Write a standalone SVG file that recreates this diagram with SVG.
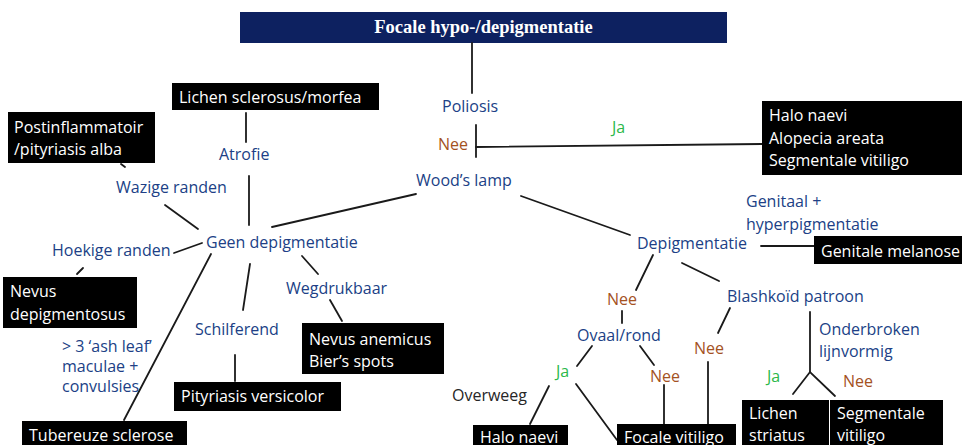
<svg xmlns="http://www.w3.org/2000/svg" width="962" height="445" viewBox="0 0 962 445">
<style>
.t{font-family:"Open Sans","Liberation Sans",sans-serif;font-size:16px}
.b{fill:#203f86}
.n{fill:#a4521f}
.j{fill:#2bb84a}
.w{fill:#ffffff}
.k{fill:#262626}
.box{fill:#000000}
.ln{stroke:#1a1a1a;stroke-width:1.8;fill:none;stroke-linecap:round}
</style>
<rect width="962" height="445" fill="#ffffff"/>
<g id="title">
<rect x="240" y="12" width="487" height="31" fill="#0d2160"/>
<text x="483.5" y="33" text-anchor="middle" font-family="Liberation Serif,serif" font-weight="bold" font-size="18.5" fill="#ffffff">Focale hypo-/depigmentatie</text>
</g>
<g id="connectors" class="ln">
<line x1="472" y1="43" x2="472" y2="93"/>
<line x1="476" y1="125" x2="476" y2="157"/>
<line x1="476" y1="147" x2="762" y2="144"/>
<line x1="521" y1="196" x2="630" y2="235"/>
<line x1="416" y1="194" x2="272" y2="227"/>
<line x1="246" y1="113" x2="246" y2="142"/>
<line x1="249" y1="176" x2="249" y2="225"/>
<line x1="121" y1="164" x2="125" y2="167"/>
<line x1="165" y1="205" x2="198" y2="229"/>
<line x1="174" y1="253" x2="202" y2="243"/>
<line x1="83" y1="268" x2="77" y2="274"/>
<line x1="211" y1="254" x2="124" y2="420"/>
<line x1="250" y1="264" x2="243" y2="310"/>
<line x1="235" y1="355" x2="235" y2="381"/>
<line x1="302" y1="256" x2="318" y2="274"/>
<line x1="330" y1="300" x2="342" y2="321"/>
<line x1="761" y1="246" x2="814" y2="246"/>
<line x1="653" y1="255" x2="636" y2="290"/>
<line x1="622" y1="311" x2="622" y2="323"/>
<line x1="592" y1="346" x2="577" y2="366"/>
<line x1="640" y1="346" x2="654" y2="365"/>
<line x1="664" y1="385" x2="664" y2="424"/>
<line x1="549" y1="386" x2="530" y2="424"/>
<line x1="576" y1="384" x2="617" y2="440"/>
<line x1="682" y1="263" x2="719" y2="281"/>
<line x1="730" y1="308" x2="718" y2="333"/>
<line x1="708" y1="362" x2="708" y2="424"/>
<line x1="810" y1="312" x2="810" y2="372"/>
<polyline points="793,394 810,372 835,396"/>
</g>
<g id="poliosis"><text class="t b" x="442" y="112">Poliosis</text></g>
<g id="nee-poliosis"><text class="t n" x="438" y="150">Nee</text></g>
<g id="ja-poliosis"><text class="t j" x="612" y="133">Ja</text></g>
<g id="halo-box">
<rect class="box" x="762" y="101" width="200" height="74"/>
<text class="t w" x="769" y="121">Halo naevi</text>
<text class="t w" x="769" y="144">Alopecia areata</text>
<text class="t w" x="769" y="166">Segmentale vitiligo</text>
</g>
<g id="woods"><text class="t b" x="416" y="186">Wood’s lamp</text></g>
<g id="lichen-sclerosus">
<rect class="box" x="172" y="83" width="207" height="27"/>
<text class="t w" x="179" y="103">Lichen sclerosus/morfea</text>
</g>
<g id="atrofie"><text class="t b" x="219" y="160">Atrofie</text></g>
<g id="postinflammatoir">
<rect class="box" x="8" y="112" width="147" height="51"/>
<text class="t w" x="14" y="133">Postinflammatoir</text>
<text class="t w" x="14" y="155">/pityriasis alba</text>
</g>
<g id="wazige"><text class="t b" x="116" y="193">Wazige randen</text></g>
<g id="geen"><text class="t b" x="206" y="248">Geen depigmentatie</text></g>
<g id="hoekige"><text class="t b" x="52" y="256">Hoekige randen</text></g>
<g id="nevus-depig">
<rect class="box" x="3" y="277" width="134" height="51"/>
<text class="t w" x="10" y="297">Nevus</text>
<text class="t w" x="10" y="320">depigmentosus</text>
</g>
<g id="ashleaf">
<text class="t b" x="62" y="352" font-size="14">&gt; 3 ‘ash leaf’</text>
<text class="t b" x="62" y="372" font-size="14">maculae +</text>
<text class="t b" x="62" y="392" font-size="14">convulsies</text>
</g>
<g id="tubereuze">
<rect class="box" x="22" y="421" width="165" height="30"/>
<text class="t w" x="29" y="441">Tubereuze sclerose</text>
</g>
<g id="schilferend"><text class="t b" x="195" y="335">Schilferend</text></g>
<g id="pityriasis">
<rect class="box" x="174" y="382" width="167" height="29"/>
<text class="t w" x="181" y="402">Pityriasis versicolor</text>
</g>
<g id="wegdrukbaar"><text class="t b" x="286" y="294">Wegdrukbaar</text></g>
<g id="nevus-anemicus">
<rect class="box" x="302" y="323" width="142" height="51"/>
<text class="t w" x="309" y="345">Nevus anemicus</text>
<text class="t w" x="309" y="367">Bier’s spots</text>
</g>
<g id="overweeg"><text class="t k" x="452" y="401">Overweeg</text></g>
<g id="depigmentatie"><text class="t b" x="637" y="249">Depigmentatie</text></g>
<g id="genitaal">
<text class="t b" x="746" y="207">Genitaal +</text>
<text class="t b" x="746" y="230">hyperpigmentatie</text>
</g>
<g id="genitale-melanose">
<rect class="box" x="814" y="236" width="150" height="28"/>
<text class="t w" x="821" y="257">Genitale melanose</text>
</g>
<g id="nee-depig"><text class="t n" x="607" y="305">Nee</text></g>
<g id="ovaal"><text class="t b" x="577" y="341">Ovaal/rond</text></g>
<g id="ja-ovaal"><text class="t j" x="556" y="377">Ja</text></g>
<g id="nee-ovaal"><text class="t n" x="650" y="382">Nee</text></g>
<g id="halo-naevi">
<rect class="box" x="473" y="425" width="95" height="25"/>
<text class="t w" x="480" y="443">Halo naevi</text>
</g>
<g id="focale-vitiligo">
<rect class="box" x="617" y="424" width="119" height="26"/>
<text class="t w" x="624" y="443">Focale vitiligo</text>
</g>
<g id="blashkoid"><text class="t b" x="727" y="302">Blashkoïd patroon</text></g>
<g id="nee-blashkoid"><text class="t n" x="694" y="354">Nee</text></g>
<g id="onderbroken">
<text class="t b" x="819" y="335">Onderbroken</text>
<text class="t b" x="819" y="357">lijnvormig</text>
</g>
<g id="ja-lijn"><text class="t j" x="767" y="382">Ja</text></g>
<g id="nee-lijn"><text class="t n" x="843" y="387">Nee</text></g>
<g id="lichen-striatus">
<rect class="box" x="742" y="400" width="87" height="50"/>
<text class="t w" x="749" y="419">Lichen</text>
<text class="t w" x="749" y="441">striatus</text>
</g>
<g id="segmentale">
<rect class="box" x="830" y="400" width="113" height="50"/>
<text class="t w" x="837" y="419">Segmentale</text>
<text class="t w" x="837" y="441">vitiligo</text>
</g>
</svg>
